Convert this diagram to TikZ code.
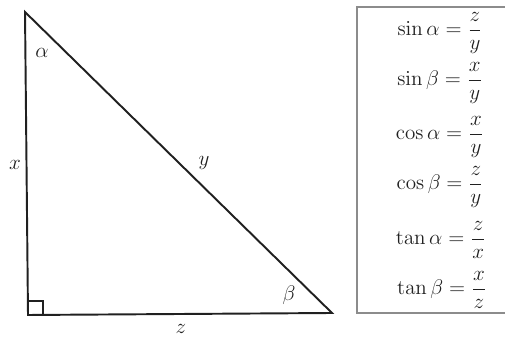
\documentclass[tikz,border=0pt]{standalone}
\usepackage{amsmath}
\usetikzlibrary{positioning,calc}
\definecolor{Frame}{HTML}{8C8C8C}
\definecolor{Ink}{HTML}{202020}

\begin{document}
\begin{tikzpicture}[x=0.02cm,y=-0.02cm]
    \useasboundingbox (0,0) rectangle (505,337);
    \tikzset{side/.style={draw=Ink,line width=1.1pt,line join=miter},
      lbl/.style={inner sep=1pt,text=Ink,font=\large},
      eq/.style={inner sep=1pt,text=Ink,font=\large}}
    % triangle
    \coordinate (top) at (25,12);
    \coordinate (corner) at (28,315);
    \coordinate (right) at (332,313);
    \draw[side] (top) -- (corner) -- (right) -- cycle;
    \draw[draw=Ink,line width=0.8pt] ($(corner)+(0,-14)$) -| ($(corner)+(15,0)$);
    \node[lbl] (alpha) at (42,53) {$\alpha$};
    \node[lbl] (sidex) at (15,165) {$x$};
    \node[lbl] (sidey) at (204,163) {$y$};
    \node[lbl] (beta) at (289,295) {$\beta$};
    \node[lbl] (sidez) at (181,329) {$z$};
    % formulas
    \coordinate (boxtr) at (515,7);
    \coordinate (boxbl) at (357,313);
    \draw[Frame,line width=1pt] (boxtr) -| (boxbl) -- (boxbl -| boxtr);
    \node[eq] (sina) at (440,33) {$\sin\alpha = \dfrac{z}{y}$};
    \node[eq] (sinb) at (440,83) {$\sin\beta = \dfrac{x}{y}$};
    \node[eq] (cosa) at (440,137) {$\cos\alpha = \dfrac{x}{y}$};
    \node[eq] (cosb) at (440,187) {$\cos\beta = \dfrac{z}{y}$};
    \node[eq] (tana) at (441,240) {$\tan\alpha = \dfrac{z}{x}$};
    \node[eq] (tanb) at (442,290) {$\tan\beta = \dfrac{x}{z}$};
  \end{tikzpicture}
\end{document}
